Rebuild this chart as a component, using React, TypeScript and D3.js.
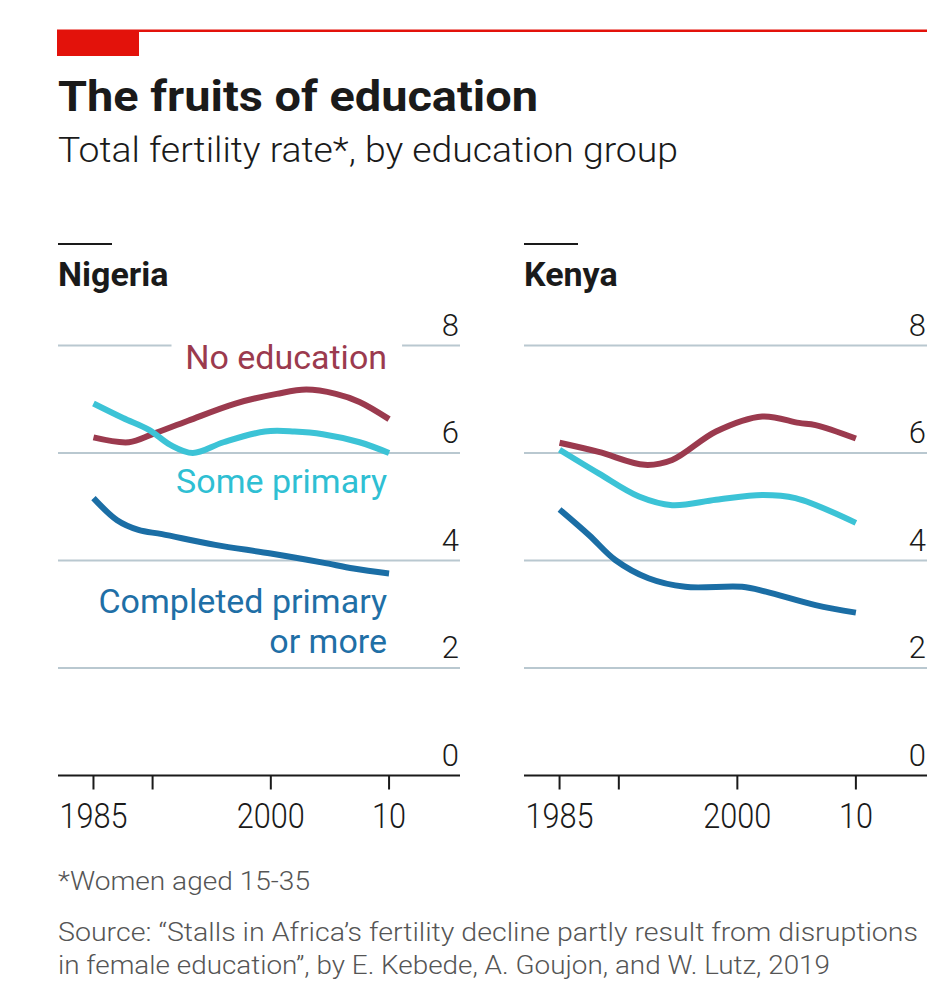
import React from "react";
import * as d3 from "d3";

const title = "The fruits of education";
const subtitle = "Total fertility rate*, by education group";
const footnote = "*Women aged 15-35";
const sourceLines = [
  "Source: \u201cStalls in Africa\u2019s fertility decline partly result from disruptions",
  "in female education\u201d, by E. Kebede, A. Goujon, and W. Lutz, 2019",
];

const countries = ["Nigeria", "Kenya"];
const seriesNames = ["No education", "Some primary", "Completed primary or more"];
const seriesColors = ["#9b3a4e", "#3cc3d6", "#1b6ea5"];
const labelColors = ["#9b3a4e", "#2fbfd3", "#1f6fa6"];

const yTicks = [0, 2, 4, 6, 8];
const xTicks = [1985, 1990, 2000, 2010];
const xTickLabels = ["1985", "", "2000", "10"];

const nigeriaNoEducation: [number, number][] = [
  [1985, 6.29], [1988, 6.2], [1990, 6.35], [1993, 6.6], [1997, 6.92],
  [2000.5, 7.1], [2003, 7.18], [2005.5, 7.1], [2007.5, 6.95], [2010, 6.63],
];
const nigeriaSomePrimary: [number, number][] = [
  [1985, 6.92], [1987.5, 6.65], [1989.7, 6.43], [1991.5, 6.15], [1993.4, 6.0],
  [1996, 6.2], [1999.5, 6.4], [2002, 6.4], [2004.4, 6.35], [2007.5, 6.2], [2010, 6.0],
];
const nigeriaCompleted: [number, number][] = [
  [1985, 5.16], [1987, 4.75], [1988.8, 4.57], [1990.8, 4.49], [1995.3, 4.29],
  [2000, 4.13], [2004.4, 3.96], [2007, 3.85], [2010, 3.76],
];
const kenyaNoEducation: [number, number][] = [
  [1985, 6.19], [1988.3, 6.02], [1992.2, 5.78], [1994.5, 5.87], [1998.2, 6.4],
  [2002.1, 6.68], [2005.2, 6.56], [2006.6, 6.52], [2010, 6.27],
];
const kenyaSomePrimary: [number, number][] = [
  [1985, 6.06], [1988.3, 5.62], [1991.7, 5.19], [1994.5, 5.03], [1998.2, 5.13],
  [2002.1, 5.22], [2004.9, 5.16], [2010, 4.7],
];
const kenyaCompleted: [number, number][] = [
  [1985, 4.95], [1987.5, 4.47], [1989.7, 4.01], [1992.5, 3.67], [1995.6, 3.51],
  [2000.4, 3.51], [2002.4, 3.42], [2006.6, 3.17], [2010, 3.03],
];

const panelData = [
  [nigeriaNoEducation, nigeriaSomePrimary, nigeriaCompleted],
  [kenyaNoEducation, kenyaSomePrimary, kenyaCompleted],
];

const LIGHT = "Roboto, 'Noto Sans', sans-serif";
const GRID = "#b9c8d0";

function Panel({ index, x0, x1 }: { index: number; x0: number; x1: number }) {
  const x = d3.scaleLinear().domain([1982, 2016]).range([x0, x1]);
  const y = d3.scaleLinear().domain([0, 8]).range([775.5, 345.5]);
  const line = d3
    .line<[number, number]>()
    .x((d) => x(d[0]))
    .y((d) => y(d[1]))
    .curve(d3.curveCatmullRom.alpha(0.5));
  const data = panelData[index];
  const labelEnd = x(2010) - 2;
  return (
    <g>
      <line x1={x0} x2={x0 + 54} y1={244} y2={244} stroke="#1a1a1a" strokeWidth={2} />
      <text x={x0} y={286} fontFamily={LIGHT} fontWeight={700} fontSize={34} fill="#1a1a1a">
        {countries[index]}
      </text>
      {yTicks.filter((t) => t > 0).map((t) => (
        <line key={t} x1={x0} x2={x1} y1={y(t)} y2={y(t)} stroke={GRID} strokeWidth={2} />
      ))}
      {index === 0 && (
        <rect x={x(1991.6)} y={y(8) - 8} width={x(2011.1) - x(1991.6)} height={16} fill="#fff" />
      )}
      {yTicks.map((t) => (
        <text key={t} x={x1 - 1} y={y(t) - 10} textAnchor="end" fontFamily={LIGHT} fontWeight={300}
          fontSize={31} fill="#1a1a1a">
          {t}
        </text>
      ))}
      <line x1={x0} x2={x1} y1={y(0)} y2={y(0)} stroke="#1a1a1a" strokeWidth={2} />
      {xTicks.map((t, i) => (
        <g key={t}>
          <line x1={x(t)} x2={x(t)} y1={y(0)} y2={y(0) + 14} stroke="#1a1a1a" strokeWidth={2} />
          {xTickLabels[i] && (
            <text x={x(t)} y={828} textAnchor="middle" fontFamily={LIGHT} fontWeight={300} fontSize={35}
              fill="#1a1a1a" textLength={xTickLabels[i].length * 17} lengthAdjust="spacingAndGlyphs">
              {xTickLabels[i]}
            </text>
          )}
        </g>
      ))}
      {data.map((s, i) => (
        <path key={i} d={line(s) || ""} fill="none" stroke={seriesColors[i]} strokeWidth={6} />
      ))}
      {index === 0 && (
        <g fontFamily={LIGHT} fontWeight={400} fontSize={34} textAnchor="end">
          <text x={labelEnd} y={369} fill={labelColors[0]}>{seriesNames[0]}</text>
          <text x={labelEnd} y={493} fill={labelColors[1]}>{seriesNames[1]}</text>
          <text x={labelEnd} y={613} fill={labelColors[2]}>Completed primary</text>
          <text x={labelEnd} y={653} fill={labelColors[2]}>or more</text>
        </g>
      )}
    </g>
  );
}

export default function App() {
  return (
    <svg width={952} height={998} viewBox="0 0 952 998"
      style={{ position: "absolute", left: 0, top: 0, background: "#fff" }}>
      <rect x={0} y={0} width={952} height={998} fill="#fff" />
      <rect x={57} y={29.5} width={870} height={2.5} fill="#e3120b" />
      <rect x={57} y={30} width={82} height={26} fill="#e3120b" />
      <text x={58} y={111} fontFamily={LIGHT} fontWeight={700} fontSize={43} fill="#1a1a1a"
        textLength={480} lengthAdjust="spacingAndGlyphs">
        {title}
      </text>
      <text x={58} y={162} fontFamily={LIGHT} fontWeight={300} fontSize={35} fill="#1a1a1a"
        textLength={620} lengthAdjust="spacingAndGlyphs">
        {subtitle}
      </text>
      <Panel index={0} x0={58} x1={460} />
      <Panel index={1} x0={524} x1={927} />
      <text x={58} y={890} fontFamily={LIGHT} fontWeight={300} fontSize={26} fill="#555"
        textLength={252} lengthAdjust="spacingAndGlyphs">
        {footnote}
      </text>
      <text x={58} y={941} fontFamily={LIGHT} fontWeight={300} fontSize={26} fill="#555"
        textLength={860} lengthAdjust="spacingAndGlyphs">
        {sourceLines[0]}
      </text>
      <text x={58} y={974} fontFamily={LIGHT} fontWeight={300} fontSize={26} fill="#555"
        textLength={772} lengthAdjust="spacingAndGlyphs">
        {sourceLines[1]}
      </text>
    </svg>
  );
}
